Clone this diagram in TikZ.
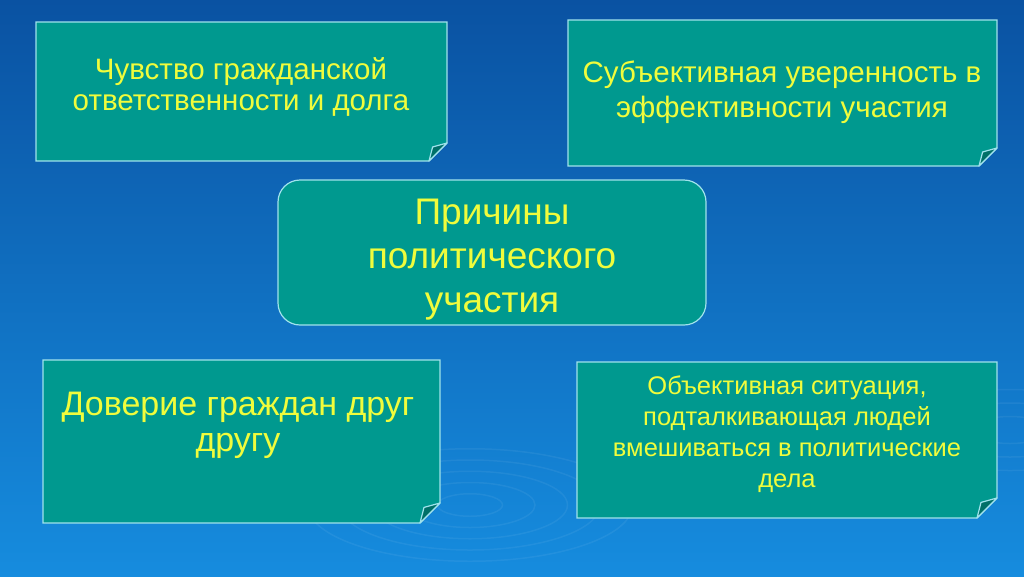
\documentclass[tikz,border=0pt]{standalone}
\usepackage{fontspec}
\setmainfont{Liberation Sans}
\definecolor{bgtop}{RGB}{10,82,162}
\definecolor{bgbot}{RGB}{22,140,222}
\definecolor{tealfill}{RGB}{0,153,143}
\definecolor{folddark}{RGB}{0,112,104}
\definecolor{edge}{RGB}{160,226,236}
\definecolor{txt}{RGB}{240,252,60}
\tikzset{
  boxfill/.style={fill=tealfill,draw=edge,line width=1.2pt,line join=miter},
  foldtri/.style={fill=folddark,draw=edge,line width=1.2pt,line join=round},
  lbl/.style={text=txt,align=center,inner sep=0pt},
  ripple/.style={draw=white,opacity=0.06,line width=1.5pt}
}
\newcommand{\foldbox}[5]{% x1,y1,x2,y2,f
  \path[boxfill] (#1,#2) -- (#3,#2) -- (#3,#4-#5) -- (#3-#5,#4) -- (#1,#4) -- cycle;
  \path[foldtri] (#3,#4-#5) -- (#3-#5,#4) -- (#3-0.8*#5,#4-0.78*#5) -- cycle;
}
\begin{document}
\begin{tikzpicture}[x=1pt,y=-1pt]
\useasboundingbox (0,0) rectangle (1024,576);
\shade[top color=bgtop,bottom color=bgbot] (0,0) rectangle (1024,576);
% decorative ripples
\foreach \r in {25,50,75,100,125}{
  \draw[ripple] (470,505) ellipse ({\r*1.3} and {\r*0.45});
}
\foreach \r in {30,60,90}{
  \draw[ripple] (1010,430) ellipse ({\r*1.3} and {\r*0.45});
}
% boxes
\foldbox{36}{22}{447}{161}{18}
\foldbox{568}{20}{997}{166}{18}
\foldbox{43}{360}{440}{523}{20}
\foldbox{577}{362}{997}{518}{20}
\node[draw=edge,fill=tealfill,line width=1.2pt,rounded corners=22pt,
      minimum width=428pt,minimum height=145pt,inner sep=0pt] (c) at (492,252.5) {};
% texts
\node[lbl,font=\fontsize{29.5}{31}\selectfont] (t1) at (241,87)
  {Чувство гражданской\\ответственности и долга};
\node[lbl,font=\fontsize{29.5}{35}\selectfont] (t2) at (782,92)
  {Субъективная уверенность в\\эффективности участия};
\node[lbl,font=\fontsize{37}{44}\selectfont] (t3) at (492,260)
  {Причины\\политического\\участия};
\node[lbl,font=\fontsize{34}{36}\selectfont] (t4) at (238,425)
  {Доверие граждан друг\\другу};
\node[lbl,font=\fontsize{25.5}{31}\selectfont] (t5) at (787,434)
  {Объективная ситуация,\\подталкивающая людей\\вмешиваться в политические\\дела};
\end{tikzpicture}
\end{document}
